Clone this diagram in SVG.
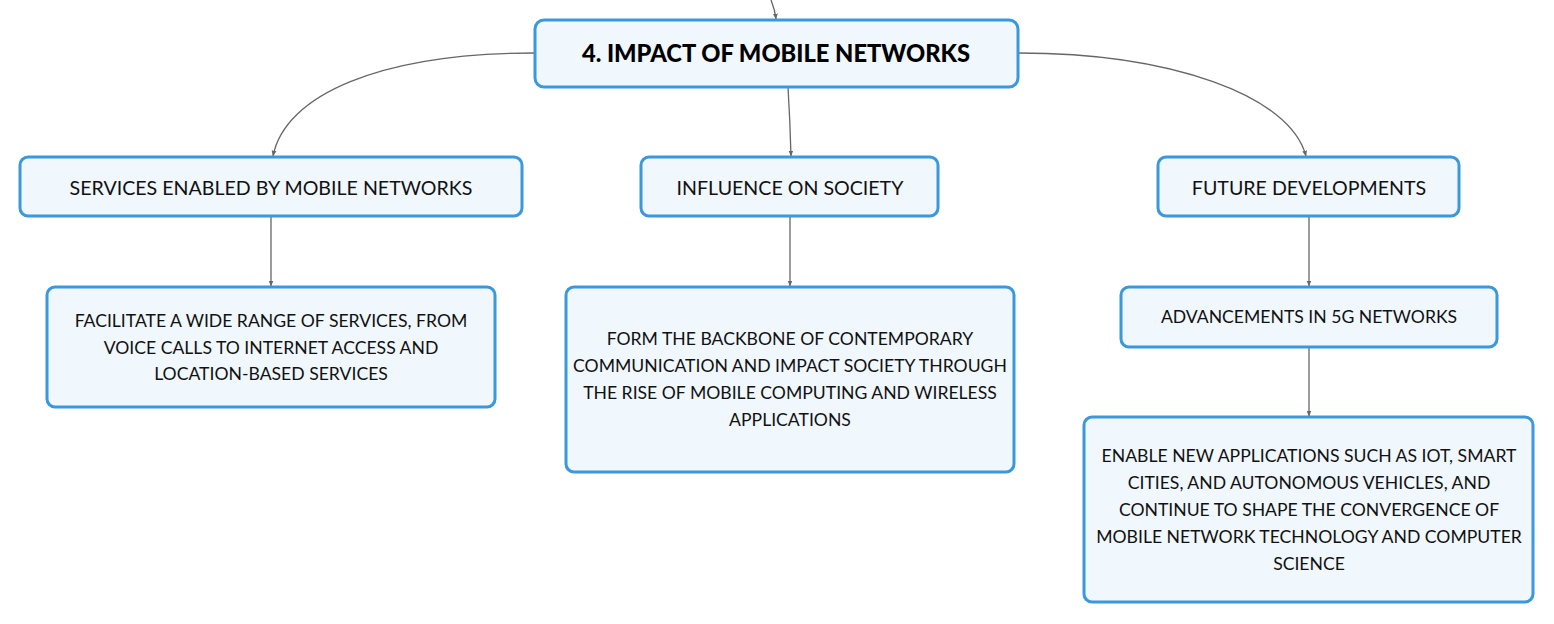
<svg xmlns="http://www.w3.org/2000/svg" width="1554" height="624" viewBox="0 0 1554 624">
<defs>
<style>
.box{fill:#f0f7fd;stroke:#3a98dc;stroke-width:3}
.t{font-family:Lato,"Noto Sans",sans-serif;font-size:17.6px;fill:#111;text-anchor:middle;dominant-baseline:central}
.t1{font-family:Lato,"Noto Sans",sans-serif;font-size:19.6px;fill:#111;text-anchor:middle;dominant-baseline:central}
.root{font-family:Lato,"Noto Sans",sans-serif;font-size:23.7px;font-weight:900;fill:#000;text-anchor:middle;dominant-baseline:central}
.c{fill:none;stroke:#666;stroke-width:1.3}
</style>
<marker id="ah" viewBox="0 0 10 10" refX="9" refY="5" markerWidth="6" markerHeight="6" orient="auto" markerUnits="userSpaceOnUse">
<path d="M0,1 L10,5 L0,9 Z" fill="#666"/>
</marker>
</defs>
<rect width="1554" height="624" fill="#fff"/>
<g id="connectors">
<path class="c" d="M771,0 Q775,10 776,19" marker-end="url(#ah)"/>
<path class="c" d="M535,53 C380,53 285,95 273,156" marker-end="url(#ah)"/>
<path class="c" d="M788,87 Q790,120 791,156" marker-end="url(#ah)"/>
<path class="c" d="M1018,53 C1170,53 1290,95 1306,156" marker-end="url(#ah)"/>
<path class="c" d="M271,216 L271,286" marker-end="url(#ah)"/>
<path class="c" d="M790,216 L790,286" marker-end="url(#ah)"/>
<path class="c" d="M1309,216 L1309,286" marker-end="url(#ah)"/>
<path class="c" d="M1309,347 L1309,416" marker-end="url(#ah)"/>
</g>
<g id="root">
<rect class="box" x="535" y="20" width="483" height="67" rx="9"/>
<text class="root" x="776" y="53">4. IMPACT OF MOBILE NETWORKS</text>
</g>
<g id="services">
<rect class="box" x="20" y="157" width="502" height="59" rx="8"/>
<text class="t1" x="271" y="187">SERVICES ENABLED BY MOBILE NETWORKS</text>
</g>
<g id="influence">
<rect class="box" x="641" y="157" width="297" height="59" rx="8"/>
<text class="t1" x="790" y="187">INFLUENCE ON SOCIETY</text>
</g>
<g id="future">
<rect class="box" x="1158" y="157" width="301" height="59" rx="8"/>
<text class="t1" x="1309" y="187">FUTURE DEVELOPMENTS</text>
</g>
<g id="facilitate">
<rect class="box" x="47" y="287" width="448" height="120" rx="8"/>
<text class="t" x="271" y="320">FACILITATE A WIDE RANGE OF SERVICES, FROM</text>
<text class="t" x="271" y="347">VOICE CALLS TO INTERNET ACCESS AND</text>
<text class="t" x="271" y="373">LOCATION-BASED SERVICES</text>
</g>
<g id="form">
<rect class="box" x="566" y="287" width="448" height="185" rx="8"/>
<text class="t" x="790" y="338">FORM THE BACKBONE OF CONTEMPORARY</text>
<text class="t" x="790" y="365">COMMUNICATION AND IMPACT SOCIETY THROUGH</text>
<text class="t" x="790" y="392">THE RISE OF MOBILE COMPUTING AND WIRELESS</text>
<text class="t" x="790" y="419">APPLICATIONS</text>
</g>
<g id="advancements">
<rect class="box" x="1121" y="287" width="376" height="60" rx="8"/>
<text class="t" x="1309" y="316">ADVANCEMENTS IN 5G NETWORKS</text>
</g>
<g id="enable">
<rect class="box" x="1084" y="417" width="449" height="185" rx="8"/>
<text class="t" x="1309" y="455">ENABLE NEW APPLICATIONS SUCH AS IOT, SMART</text>
<text class="t" x="1309" y="482">CITIES, AND AUTONOMOUS VEHICLES, AND</text>
<text class="t" x="1309" y="509">CONTINUE TO SHAPE THE CONVERGENCE OF</text>
<text class="t" x="1309" y="536">MOBILE NETWORK TECHNOLOGY AND COMPUTER</text>
<text class="t" x="1309" y="563">SCIENCE</text>
</g>
</svg>
